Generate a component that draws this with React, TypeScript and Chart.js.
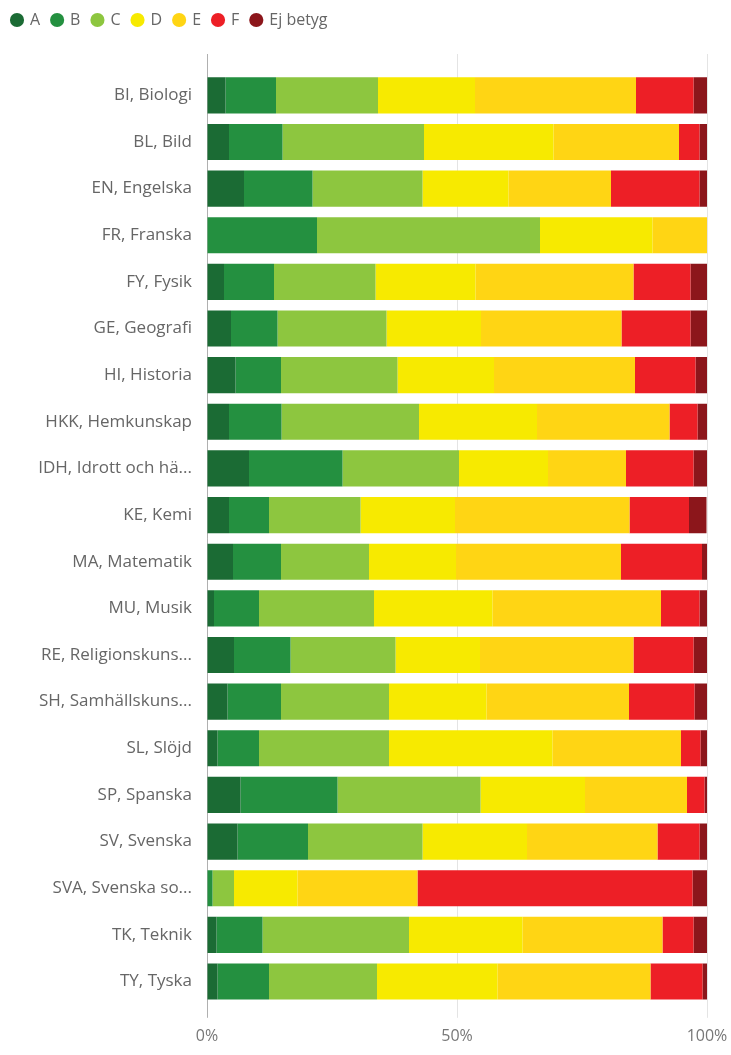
import React, { useEffect, useRef } from "react";
import { Chart, registerables } from "chart.js";

Chart.register(...registerables);

const subjects = [
  "BI, Biologi",
  "BL, Bild",
  "EN, Engelska",
  "FR, Franska",
  "FY, Fysik",
  "GE, Geografi",
  "HI, Historia",
  "HKK, Hemkunskap",
  "IDH, Idrott och hä...",
  "KE, Kemi",
  "MA, Matematik",
  "MU, Musik",
  "RE, Religionskuns...",
  "SH, Samhällskuns...",
  "SL, Slöjd",
  "SP, Spanska",
  "SV, Svenska",
  "SVA, Svenska so...",
  "TK, Teknik",
  "TY, Tyska",
];

const gradeA = [3.7, 4.4, 7.4, 0, 3.4, 4.8, 5.7, 4.4, 8.4, 4.4, 5.2, 1.4, 5.4, 4.1, 2.1, 6.7, 6.1, 0, 1.9, 2.1];
const gradeB = [10.1, 10.7, 13.7, 22.0, 10.0, 9.3, 9.1, 10.5, 18.7, 8.0, 9.6, 9.0, 11.3, 10.7, 8.3, 19.4, 14.1, 1.1, 9.2, 10.3];
const gradeC = [20.4, 28.3, 22.0, 44.6, 20.3, 21.8, 23.3, 27.5, 23.3, 18.3, 17.6, 23.0, 21.0, 21.6, 26.0, 28.6, 22.9, 4.3, 29.3, 21.6];
const gradeD = [19.4, 25.9, 17.2, 22.5, 20.0, 18.9, 19.3, 23.6, 17.8, 18.9, 17.4, 23.7, 16.9, 19.5, 32.7, 20.9, 20.9, 12.7, 22.7, 24.1];
const gradeE = [32.2, 25.1, 20.5, 10.9, 31.6, 28.1, 28.2, 26.5, 15.6, 34.9, 33.0, 33.7, 30.7, 28.5, 25.7, 20.4, 26.1, 24.0, 28.0, 30.6];
const gradeF = [11.5, 4.1, 17.7, 0, 11.4, 13.8, 12.1, 5.6, 13.5, 11.9, 16.2, 7.7, 12.0, 13.1, 3.9, 3.5, 8.4, 55.0, 6.2, 10.4];
const gradeEj = [2.7, 1.5, 1.5, 0, 3.3, 3.3, 2.3, 1.9, 2.7, 3.5, 1.0, 1.5, 2.7, 2.5, 1.3, 0.5, 1.5, 2.9, 2.7, 0.9];

const seriesNames = ["A", "B", "C", "D", "E", "F", "Ej betyg"];
const seriesColors = ["#1b6b34", "#249040", "#8dc63f", "#f7ea00", "#ffd514", "#ed1f26", "#8c161b"];
const xTicks = [0, 50, 100];

const FONT = "'Open Sans', 'Noto Sans', sans-serif";

export default function App() {
  const canvasRef = useRef<HTMLCanvasElement | null>(null);

  useEffect(() => {
    if (!canvasRef.current) return;
    const seriesData = [gradeA, gradeB, gradeC, gradeD, gradeE, gradeF, gradeEj];
    const legendSpacer = {
      id: "legendSpacer",
      beforeInit(chart: any) {
        const legend = chart.legend;
        if (!legend) return;
        const origFit = legend.fit;
        legend.fit = function () {
          origFit.call(this);
          this.height += 34;
        };
      },
    };
    const axisExtension = {
      id: "axisExtension",
      beforeDatasetsDraw(chart: any) {
        const xs = chart.scales.x;
        const top = chart.chartArea.top;
        const ctx = chart.ctx;
        ctx.save();
        ctx.lineWidth = 1;
        xTicks.forEach((v) => {
          const px = Math.round(xs.getPixelForValue(v)) + 0.5;
          ctx.strokeStyle = v === 0 ? "#b0b0b0" : "#e4e4e4";
          ctx.beginPath();
          ctx.moveTo(px, top - 18);
          ctx.lineTo(px, top);
          ctx.stroke();
        });
        ctx.restore();
      },
    };
    const chart = new Chart(canvasRef.current, {
      type: "bar",
      data: {
        labels: subjects,
        datasets: seriesNames.map((name, i) => ({
          label: name,
          data: seriesData[i],
          backgroundColor: seriesColors[i],
          borderWidth: 0,
          barPercentage: 0.775,
          categoryPercentage: 1,
        })),
      },
      options: {
        indexAxis: "y",
        animation: false,
        responsive: true,
        maintainAspectRatio: false,
        layout: { padding: { left: 0, right: 24, top: 0, bottom: 0 } },
        plugins: {
          legend: {
            display: true,
            position: "top",
            align: "start",
            labels: {
              usePointStyle: true,
              pointStyle: "circle",
              boxWidth: 10,
              boxHeight: 10,
              padding: 12,
              color: "#666",
              font: { family: FONT, size: 16 },
            },
          },
          tooltip: { enabled: false },
        },
        scales: {
          x: {
            stacked: true,
            min: 0,
            max: 100,
            afterBuildTicks: (scale: any) => {
              scale.ticks = xTicks.map((v) => ({ value: v }));
            },
            afterFit: (scale: any) => {
              scale.paddingRight = 0;
              scale.paddingLeft = 0;
            },
            ticks: {
              callback: (v: any) => v + "%",
              color: "#777",
              padding: 9,
              font: { family: FONT, size: 16 },
              maxRotation: 0,
            },
            grid: {
              drawOnChartArea: true,
              drawTicks: true,
              tickLength: 13,
              color: (ctx: any) => (ctx.tick && ctx.tick.value === 0 ? "#b0b0b0" : "#e4e4e4"),
              lineWidth: 1,
            },
            border: { display: false },
          },
          y: {
            stacked: true,
            afterFit: (scale: any) => {
              scale.width = 207;
            },
            ticks: {
              color: "#666",
              padding: 15,
              font: { family: FONT, size: 17 },
              autoSkip: false,
            },
            grid: { display: false, drawTicks: false },
            border: { display: true, color: "#b0b0b0", width: 1 },
          },
        },
      },
      plugins: [legendSpacer, axisExtension],
    } as any);
    return () => chart.destroy();
  }, []);

  return (
    <div style={{ position: "absolute", left: 0, top: 0, width: 731, height: 1055, background: "#fff" }}>
      <canvas ref={canvasRef} />
    </div>
  );
}
